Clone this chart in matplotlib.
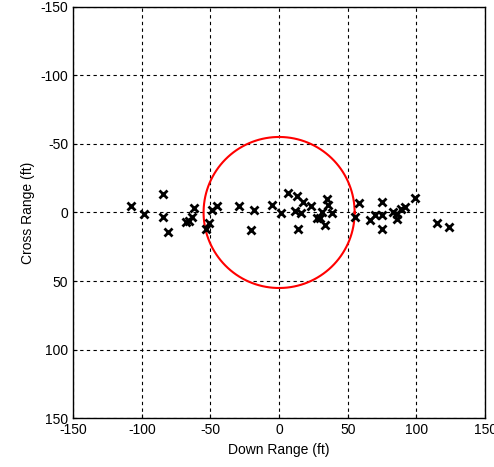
import numpy as np
import matplotlib.pyplot as plt

# impact points (ft)
down_range = [-107.8, -98.5, -84.2, -84.2, -80.6, -61.7, -63.6, -65.3, -67.7, -53.2,
              -50.8, -48.8, -44.9, -28.9, -20.4, -18.2, -5.3, 1.5, 6.3, 12.9,
              17.7, 11.9, 16.0, 14.1, 23.5, 35.2, 35.9, 31.1, 38.4, 27.5,
              29.9, 33.5, 55.3, 58.5, 66.3, 69.9, 74.8, 74.8, 74.8, 83.2,
              85.7, 86.1, 88.6, 91.8, 99.0, 114.8, 123.8]
cross_range = [-4.7, 1.3, -13.5, 3.1, 14.4, -3.5, 3.1, 6.0, 7.1, 11.8,
               7.4, -1.8, -4.7, -4.7, 12.7, -1.8, -5.7, 0.1, -14.4, -12.0,
               -7.9, -1.3, 0.1, 12.2, -4.7, -9.6, -5.5, -0.6, 0.1, 3.8,
               4.2, 9.1, 3.1, -7.1, 5.5, 1.8, -7.9, 1.8, 12.2, -0.6,
               1.3, 5.0, -2.3, -3.8, -10.8, 7.4, 10.3]
radius = 55
ticks = [-150, -100, -50, 0, 50, 100, 150]

plt.rcParams['font.family'] = ['Liberation Sans', 'DejaVu Sans']
plt.rcParams['font.size'] = 10
plt.rcParams['axes.unicode_minus'] = False

fig = plt.figure(figsize=(4.94, 4.67), dpi=100)
ax = fig.add_axes([0.148, 0.104, 0.834, 0.882])

th = np.linspace(0, 2 * np.pi, 400)
ax.plot(radius * np.cos(th), radius * np.sin(th), color='red', lw=1.5)
ax.plot(down_range, cross_range, 'x', color='black', ms=6, mew=2)

ax.set_xlim(-150, 150)
ax.set_ylim(150, -150)
ax.set_xticks(ticks)
ax.set_yticks(ticks)
ax.grid(True, color='black', ls=(0, (3, 3)), lw=0.8)
ax.tick_params(direction='in', length=3)
for s in ax.spines.values():
    s.set_linewidth(1.0)
ax.set_xlabel('Down Range (ft)')
ax.set_ylabel('Cross Range (ft)')

fig.savefig('out.png')
